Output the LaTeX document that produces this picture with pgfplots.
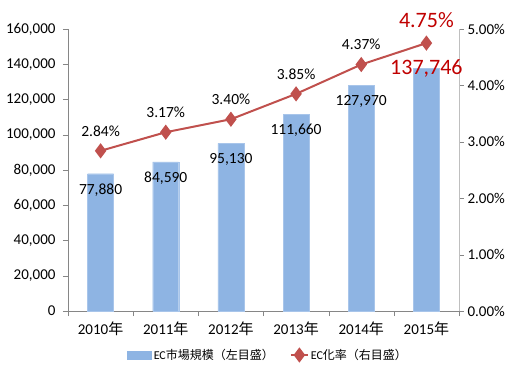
\documentclass[border=0pt]{standalone}
\usepackage{fontspec}
\setmainfont{Carlito}
\newfontfamily\cjk{Noto Sans CJK JP}
\usepackage{pgfplots}
\pgfplotsset{compat=1.18}
\definecolor{barblue}{HTML}{8EB4E3}
\definecolor{baredge}{HTML}{A8C5EA}
\definecolor{linered}{HTML}{C0504D}
\definecolor{labred}{HTML}{C00000}
\definecolor{axgray}{HTML}{868686}
\definecolor{axlight}{HTML}{BFBFBF}
\newcommand{\tickfont}{\fontsize{15bp}{18bp}\selectfont}
\newcommand{\labfont}{\fontsize{15.5bp}{18bp}\selectfont}
\newcommand{\bigfont}{\fontsize{22bp}{26bp}\selectfont}
\newcommand{\legfont}{\fontsize{12bp}{14bp}\selectfont}
\begin{document}
\begin{tikzpicture}
\begin{axis}[name=left,
  scale only axis, width=391bp, height=282bp,
  xmin=-0.5, xmax=5.5, ymin=0, ymax=160000,
  axis x line*=bottom, axis y line*=left,
  x axis line style={axgray,-}, y axis line style={axgray,-},
  ytick={0,20000,...,160000}, scaled y ticks=false,
  yticklabel style={xshift=-4bp, /pgf/number format/.cd, fixed, 1000 sep={,}},
  /pgf/number format/assume math mode=true,
  xtick={0,...,5},
  xticklabels={2010{\cjk 年},2011{\cjk 年},2012{\cjk 年},2013{\cjk 年},2014{\cjk 年},2015{\cjk 年}},
  major x tick style={draw=none},
  minor xtick={-0.5,0.5,...,5.5},
  tick align=outside, major tick length=5bp, minor tick length=5bp,
  tick style={axgray},
  ticklabel style={font=\tickfont},
  xticklabel style={yshift=-2bp},
  clip=false,
]
\addplot[ybar, bar width=26bp, fill=barblue, draw=baredge] coordinates {
  (0,77880) (1,84590) (2,95130) (3,111660) (4,127970) (5,137746)};
\node[font=\labfont, yshift=-16bp] at (axis cs:0,77880) {77,880};
\node[font=\labfont, yshift=-16bp] at (axis cs:1,84590) {84,590};
\node[font=\labfont, yshift=-16bp] at (axis cs:2,95130) {95,130};
\node[font=\labfont, yshift=-16bp] at (axis cs:3,111660) {111,660};
\node[font=\labfont, yshift=-16bp] at (axis cs:4,127970) {127,970};
\end{axis}
\begin{axis}[
  scale only axis, width=391bp, height=282bp,
  xmin=-0.5, xmax=5.5, ymin=0, ymax=5,
  axis x line=none, axis y line*=right,
  y axis line style={axlight,-},
  ytick={0,...,5},
  yticklabel={\pgfmathprintnumber[fixed,fixed zerofill,precision=2,assume math mode=true]{\tick}\%},
  tick align=outside, major tick length=5bp,
  tick style={axgray},
  ticklabel style={font=\tickfont},
  clip=false,
  legend style={at={(0.512,-0.156)}, anchor=center, draw=none, font=\legfont, legend columns=2,
    /tikz/every even column/.append style={column sep=14bp}},
]
\addlegendimage{legend image code/.code={\fill[barblue] (0bp,-4bp) rectangle (24bp,4bp);}}
\addlegendentry{EC{\cjk 市場規模（左目盛）}}
\addplot[linered, line width=2bp, mark=diamond*, mark size=6bp, mark options={solid}] coordinates {
  (0,2.84) (1,3.17) (2,3.40) (3,3.85) (4,4.37) (5,4.75)};
\addlegendentry{EC{\cjk 化率（右目盛）}}
\node[font=\labfont, yshift=20bp] at (axis cs:0,2.84) {2.84\%};
\node[font=\labfont, yshift=20bp] at (axis cs:1,3.17) {3.17\%};
\node[font=\labfont, yshift=20bp] at (axis cs:2,3.40) {3.40\%};
\node[font=\labfont, yshift=20bp] at (axis cs:3,3.85) {3.85\%};
\node[font=\labfont, yshift=20bp] at (axis cs:4,4.37) {4.37\%};
\node[font=\bigfont, text=labred, yshift=23bp] at (axis cs:5,4.75) {4.75\%};
\node[font=\bigfont, text=labred] at (axis cs:5,4.3049) {137,746};
\end{axis}
\pgfresetboundingbox
\path[use as bounding box] ([shift={(-68bp,-62bp)}]left.south west) rectangle ++(529bp,373bp);
\end{tikzpicture}
\end{document}
